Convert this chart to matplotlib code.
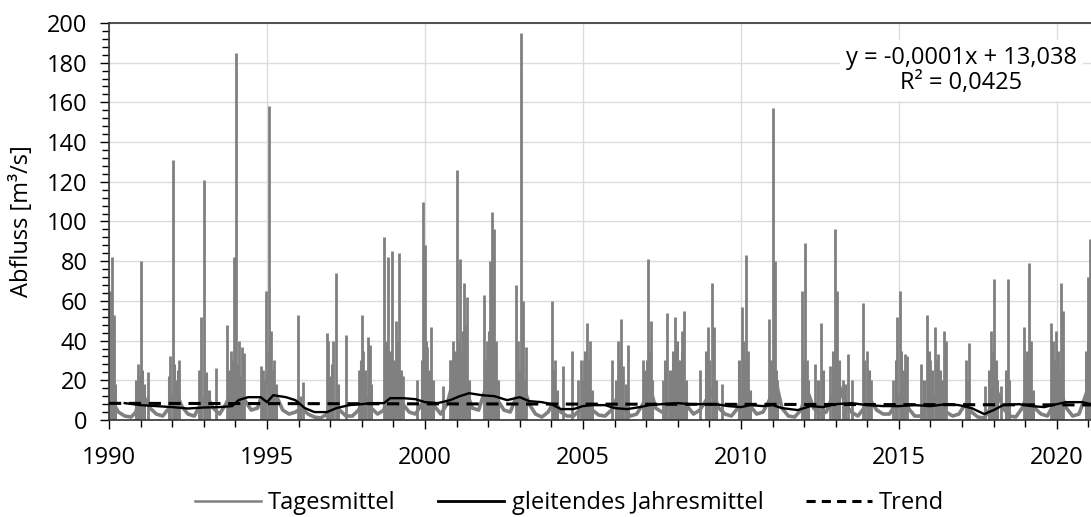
import matplotlib
matplotlib.use("Agg")
import matplotlib.pyplot as plt
from matplotlib.ticker import MultipleLocator
import numpy as np

# daily discharge: slow base flow (read roughly) + flood peaks
base_years = [1990.00, 1990.05, 1990.15, 1990.3, 1990.5, 1990.7, 1990.85, 1990.95,
              1991.1, 1991.3, 1991.5, 1991.7, 1991.9,
              1992.1, 1992.3, 1992.5, 1992.7, 1992.9,
              1993.1, 1993.3, 1993.5, 1993.7, 1993.9,
              1994.1, 1994.3, 1994.5, 1994.7, 1994.9,
              1995.1, 1995.3, 1995.5, 1995.7, 1995.9,
              1996.1, 1996.3, 1996.5, 1996.7, 1996.9,
              1997.1, 1997.3, 1997.5, 1997.7, 1997.9,
              1998.1, 1998.3, 1998.5, 1998.7, 1998.9,
              1999.1, 1999.3, 1999.5, 1999.7, 1999.9,
              2000.1, 2000.3, 2000.5, 2000.7, 2000.9,
              2001.1, 2001.3, 2001.5, 2001.7, 2001.9,
              2002.1, 2002.3, 2002.5, 2002.7, 2002.9,
              2003.1, 2003.3, 2003.5, 2003.7, 2003.9,
              2004.1, 2004.3, 2004.5, 2004.7, 2004.9,
              2005.1, 2005.3, 2005.5, 2005.7, 2005.9,
              2006.1, 2006.3, 2006.5, 2006.7, 2006.9,
              2007.1, 2007.3, 2007.5, 2007.7, 2007.9,
              2008.1, 2008.3, 2008.5, 2008.7, 2008.9,
              2009.1, 2009.3, 2009.5, 2009.7, 2009.9,
              2010.1, 2010.3, 2010.5, 2010.7, 2010.9,
              2011.1, 2011.3, 2011.5, 2011.7, 2011.9,
              2012.1, 2012.3, 2012.5, 2012.7, 2012.9,
              2013.1, 2013.3, 2013.5, 2013.7, 2013.9,
              2014.1, 2014.3, 2014.5, 2014.7, 2014.9,
              2015.1, 2015.3, 2015.5, 2015.7, 2015.9,
              2016.1, 2016.3, 2016.5, 2016.7, 2016.9,
              2017.1, 2017.3, 2017.5, 2017.7, 2017.9,
              2018.1, 2018.3, 2018.5, 2018.7, 2018.9,
              2019.1, 2019.3, 2019.5, 2019.7, 2019.9,
              2020.1, 2020.3, 2020.5, 2020.7, 2020.9, 2021.08]
base_flow = [60, 20, 8, 4, 2, 1.5, 4, 10,
             12, 6, 3, 2, 6,
             15, 7, 3, 2, 8,
             12, 6, 3, 8, 15,
             20, 10, 5, 6, 15,
             25, 12, 5, 3, 4,
             6, 3, 1.5, 1, 3,
             8, 5, 2, 2, 5,
             12, 6, 3, 5, 18,
             20, 8, 4, 3, 8,
             15, 7, 3, 8, 20,
             25, 15, 6, 5, 15,
             25, 10, 5, 4, 12,
             18, 8, 3, 1.5, 4,
             10, 4, 2, 2, 5,
             12, 5, 2.5, 2, 5,
             12, 6, 2, 3, 8,
             18, 6, 4, 6, 12,
             14, 7, 3, 5, 10,
             15, 6, 3, 2, 6,
             15, 7, 3, 4, 10,
             20, 6, 2, 1.5, 5,
             15, 6, 3, 4, 12,
             18, 8, 4, 2, 6,
             10, 5, 3, 3, 8,
             14, 6, 2, 2, 8,
             12, 8, 4, 2, 3,
             8, 4, 1.5, 1, 6,
             15, 6, 2, 1.5, 6,
             14, 6, 3, 2, 8,
             15, 6, 2, 3, 12, 20]

# flood peaks (large ones)
peak_years = [1990.02, 1990.10, 1990.15, 1990.92, 1990.97, 1991.02, 1991.22,
              1991.93, 1992.02, 1992.12, 1992.22, 1992.85, 1992.92, 1993.02, 1993.38,
              1993.75, 1993.85, 1993.97, 1994.02, 1994.10, 1994.20, 1994.28,
              1994.82, 1994.88, 1994.97, 1995.05, 1995.12, 1995.22,
              1995.99, 1996.15, 1996.89, 1996.94, 1997.10, 1997.17, 1997.49,
              1997.90, 1998.00, 1998.05, 1998.19, 1998.25,
              1998.71, 1998.84, 1998.96, 1999.07, 1999.18, 1999.31,
              1999.76, 1999.95, 2000.00, 2000.08, 2000.19,
              2000.56, 2000.79, 2000.88, 2000.95, 2001.02, 2001.11, 2001.23, 2001.30, 2001.34,
              2001.87, 2001.96, 2002.06, 2002.13, 2002.18, 2002.25,
              2002.87, 2002.93, 2003.03, 2003.09, 2003.19,
              2004.03, 2004.12, 2004.36, 2004.66, 2004.83,
              2004.95, 2005.03, 2005.12, 2005.22,
              2005.93, 2006.12, 2006.19, 2006.28, 2006.42,
              2006.91, 2007.07, 2007.15,
              2007.52, 2007.65, 2007.91, 2008.02, 2008.12, 2008.20,
              2008.70, 2008.95, 2009.08, 2009.15, 2009.39,
              2010.02, 2010.16, 2010.22, 2010.89, 2011.03, 2011.07,
              2011.94, 2012.03, 2012.08, 2012.34, 2012.55,
              2012.82, 2012.97, 2013.05, 2013.24, 2013.39, 2013.50,
              2013.85, 2014.00, 2014.13,
              2014.82, 2014.95, 2015.03, 2015.19, 2015.27,
              2015.71, 2015.90, 2016.00, 2016.14, 2016.24, 2016.43, 2016.48,
              2017.11, 2017.21,
              2017.72, 2017.93, 2018.01, 2018.23, 2018.44,
              2018.95, 2019.12, 2019.19,
              2019.80, 2019.87, 2019.97, 2020.12, 2020.20,
              2020.97, 2021.04]
peak_flow = [65, 82, 53, 28, 22, 80, 24,
             32, 131, 20, 30, 25, 52, 121, 26,
             48, 35, 82, 185, 40, 37, 34,
             27, 25, 65, 158, 45, 30,
             53, 19, 44, 40, 40, 74, 43,
             25, 53, 35, 42, 38,
             92, 82, 85, 50, 84, 22,
             20, 110, 88, 37, 47,
             17, 30, 40, 35, 126, 81, 69, 48, 62,
             63, 40, 80, 105, 96, 40,
             68, 40, 195, 60, 37,
             60, 30, 27, 35, 20,
             30, 30, 49, 40,
             30, 40, 51, 27, 38,
             30, 81, 50,
             20, 54, 52, 30, 45, 55,
             25, 47, 69, 47, 18,
             57, 83, 35, 51, 157, 80,
             65, 89, 30, 28, 49,
             27, 96, 65, 20, 33, 20,
             59, 35, 20,
             20, 52, 65, 33, 32,
             28, 53, 30, 47, 33, 45, 40,
             30, 39,
             17, 45, 71, 17, 71,
             47, 79, 40,
             49, 40, 45, 69, 55,
             72, 91]

# smaller winter events (dense grey clusters near the bottom)
small_years = [1990.05, 1990.20, 1990.85, 1991.05, 1991.12, 1991.90, 1992.05, 1992.17,
               1992.88, 1993.08, 1993.15, 1993.80, 1993.92, 1994.06, 1994.15, 1994.92,
               1995.08, 1995.17, 1995.30, 1996.05, 1996.98, 1997.05, 1997.25, 1997.97,
               1998.10, 1998.30, 1998.77, 1998.90, 1999.02, 1999.12, 1999.25, 1999.90,
               2000.04, 2000.13, 2000.25, 2000.84, 2000.92, 2001.07, 2001.16, 2001.20,
               2001.27, 2001.40, 2001.92, 2002.02, 2002.10, 2002.22, 2002.30, 2002.97,
               2003.06, 2003.14, 2004.07, 2004.18, 2005.00, 2005.08, 2005.17, 2005.30,
               2006.05, 2006.16, 2006.23, 2006.35, 2006.97, 2007.03, 2007.10, 2007.20,
               2007.60, 2007.75, 2007.85, 2007.97, 2008.07, 2008.15, 2008.25, 2008.90,
               2009.00, 2009.12, 2009.20, 2009.95, 2010.07, 2010.12, 2010.28, 2010.95,
               2011.10, 2011.15, 2011.98, 2012.12, 2012.45, 2012.60, 2012.90, 2013.00,
               2013.10, 2013.30, 2013.90, 2014.05, 2014.90, 2015.08, 2015.13, 2015.80,
               2015.95, 2016.05, 2016.20, 2016.30, 2016.38, 2017.15, 2017.85, 2017.97,
               2018.06, 2018.12, 2018.38, 2018.50, 2019.00, 2019.07, 2019.15, 2019.25,
               2019.90, 2020.02, 2020.07, 2020.16, 2020.92, 2021.00]
small_flow = [40, 18, 20, 25, 18, 22, 28, 25,
              20, 24, 15, 25, 30, 28, 22, 20,
              35, 25, 18, 12, 22, 28, 18, 30,
              25, 18, 40, 35, 30, 40, 25, 30,
              40, 25, 20, 30, 25, 40, 35, 45,
              30, 20, 30, 45, 50, 35, 20, 25,
              30, 20, 25, 15, 20, 35, 30, 15,
              20, 30, 22, 18, 25, 30, 35, 20,
              30, 25, 35, 40, 30, 35, 20, 35,
              30, 35, 20, 30, 40, 30, 15, 30,
              25, 20, 30, 20, 20, 25, 35, 40,
              30, 18, 30, 25, 30, 35, 25, 20,
              35, 25, 30, 25, 20, 20, 25, 35,
              30, 20, 25, 20, 30, 35, 25, 15,
              30, 35, 25, 30, 35, 40]

# gleitendes Jahresmittel
mean_years = [1990.5, 1991.0, 1991.5, 1992.0, 1992.5, 1993.0, 1993.5, 1993.9,
              1994.1, 1994.4, 1994.8, 1995.0, 1995.2, 1995.6, 1995.9,
              1996.2, 1996.5, 1996.9, 1997.2, 1997.6, 1998.0, 1998.3, 1998.7,
              1998.9, 1999.3, 1999.7, 2000.0, 2000.4, 2000.8, 2001.1, 2001.4,
              2001.8, 2002.2, 2002.6, 2003.0, 2003.3, 2003.7, 2004.0, 2004.3,
              2004.7, 2005.0, 2005.3, 2005.7, 2006.0, 2006.4, 2006.8, 2007.1,
              2007.5, 2008.0, 2008.4, 2008.9, 2009.2, 2009.6, 2010.0, 2010.3,
              2010.7, 2011.0, 2011.3, 2011.8, 2012.2, 2012.6, 2013.0, 2013.5,
              2014.0, 2014.5, 2015.0, 2015.5, 2016.0, 2016.5, 2016.9, 2017.3,
              2017.7, 2018.0, 2018.3, 2018.8, 2019.2, 2019.6, 2020.0, 2020.3,
              2020.8, 2021.08]
mean_flow = [8.5, 7.5, 7, 6.5, 5.8, 6.3, 6.5, 7,
             10, 11.5, 11.5, 9, 12.5, 11.5, 10,
             6, 4, 4, 6, 7.5, 8, 8.5, 8.5,
             11, 11, 10.5, 9, 8.5, 10, 12, 13.5,
             12.5, 12, 10, 11.5, 9.5, 9, 8, 5.5,
             5.5, 7, 7.5, 7.5, 6, 5.5, 6.5, 7.5,
             8, 8.5, 8, 8, 8, 7, 6.5, 7.5,
             7, 7.5, 6, 5, 7, 6.5, 8, 8.5,
             7.5, 7, 7, 7.5, 7, 8, 7.5, 6,
             3, 5, 7.5, 8, 7, 6.5, 8, 9,
             9, 8]

# linear trend, y = -0,0001x + 13,038 (Excel dates) -> end values
trend_years = [1990.0, 2021.08]
trend_flow = [8.4, 7.6]

grey = "#808080"
plt.rcParams["font.family"] = ["Open Sans", "DejaVu Sans"]

fig = plt.figure(figsize=(10.91, 5.17), dpi=100)
ax = fig.add_axes([0.0999, 0.1876, 0.9001, 0.768])

ax.plot(base_years, base_flow, color=grey, lw=2.6, label="Tagesmittel", zorder=2)
ax.vlines(peak_years, 0, peak_flow, color=grey, lw=2.0, zorder=2)
ax.vlines(small_years, 0, small_flow, color=grey, lw=2.2, zorder=2)
ax.plot(mean_years, mean_flow, color="black", lw=1.7,
        label="gleitendes Jahresmittel", zorder=3)
ax.plot(trend_years, trend_flow, color="black", lw=2.2, ls=(0, (4, 2.5)),
        label="Trend", zorder=3)

ax.set_xlim(1990, 2021.08)
ax.set_ylim(0, 200)
ax.xaxis.set_major_locator(MultipleLocator(5))
ax.xaxis.set_minor_locator(MultipleLocator(1))
ax.yaxis.set_major_locator(MultipleLocator(20))
ax.yaxis.set_minor_locator(MultipleLocator(4))
ax.grid(True, which="major", color="#dcdcdc", lw=1, zorder=0)
ax.set_axisbelow(True)

ax.tick_params(axis="y", which="major", length=6.5, width=1, labelsize=17, pad=9)
ax.tick_params(axis="y", which="minor", length=5, width=1)
ax.tick_params(axis="x", which="major", length=6.5, width=1, labelsize=17, pad=12)
ax.tick_params(axis="x", which="minor", length=5, width=1)

for s in ["left", "bottom", "top"]:
    ax.spines[s].set_color("#333333")
    ax.spines[s].set_linewidth(1.2)
ax.spines["right"].set_visible(False)

ax.set_ylabel("Abfluss [m³/s]", fontsize=17, labelpad=9)

ax.text(0.868, 0.943, "y = -0,0001x + 13,038\nR² = 0,0425", transform=ax.transAxes,
        ha="center", va="top", fontsize=17, linespacing=1.1,
        bbox=dict(facecolor="white", edgecolor="none", pad=4), zorder=5)

leg = ax.legend(loc="center", bbox_to_anchor=(0.469, -0.21), ncol=3,
                frameon=False, handlelength=2.8, columnspacing=1.8,
                handletextpad=0.3, prop={"size": 17})
handles = leg.get_lines()
handles[0].set_linewidth(1.8)
handles[1].set_linewidth(2.0)
handles[2].set_linestyle((0, (3, 2)))

fig.savefig("out.png", dpi=100)
